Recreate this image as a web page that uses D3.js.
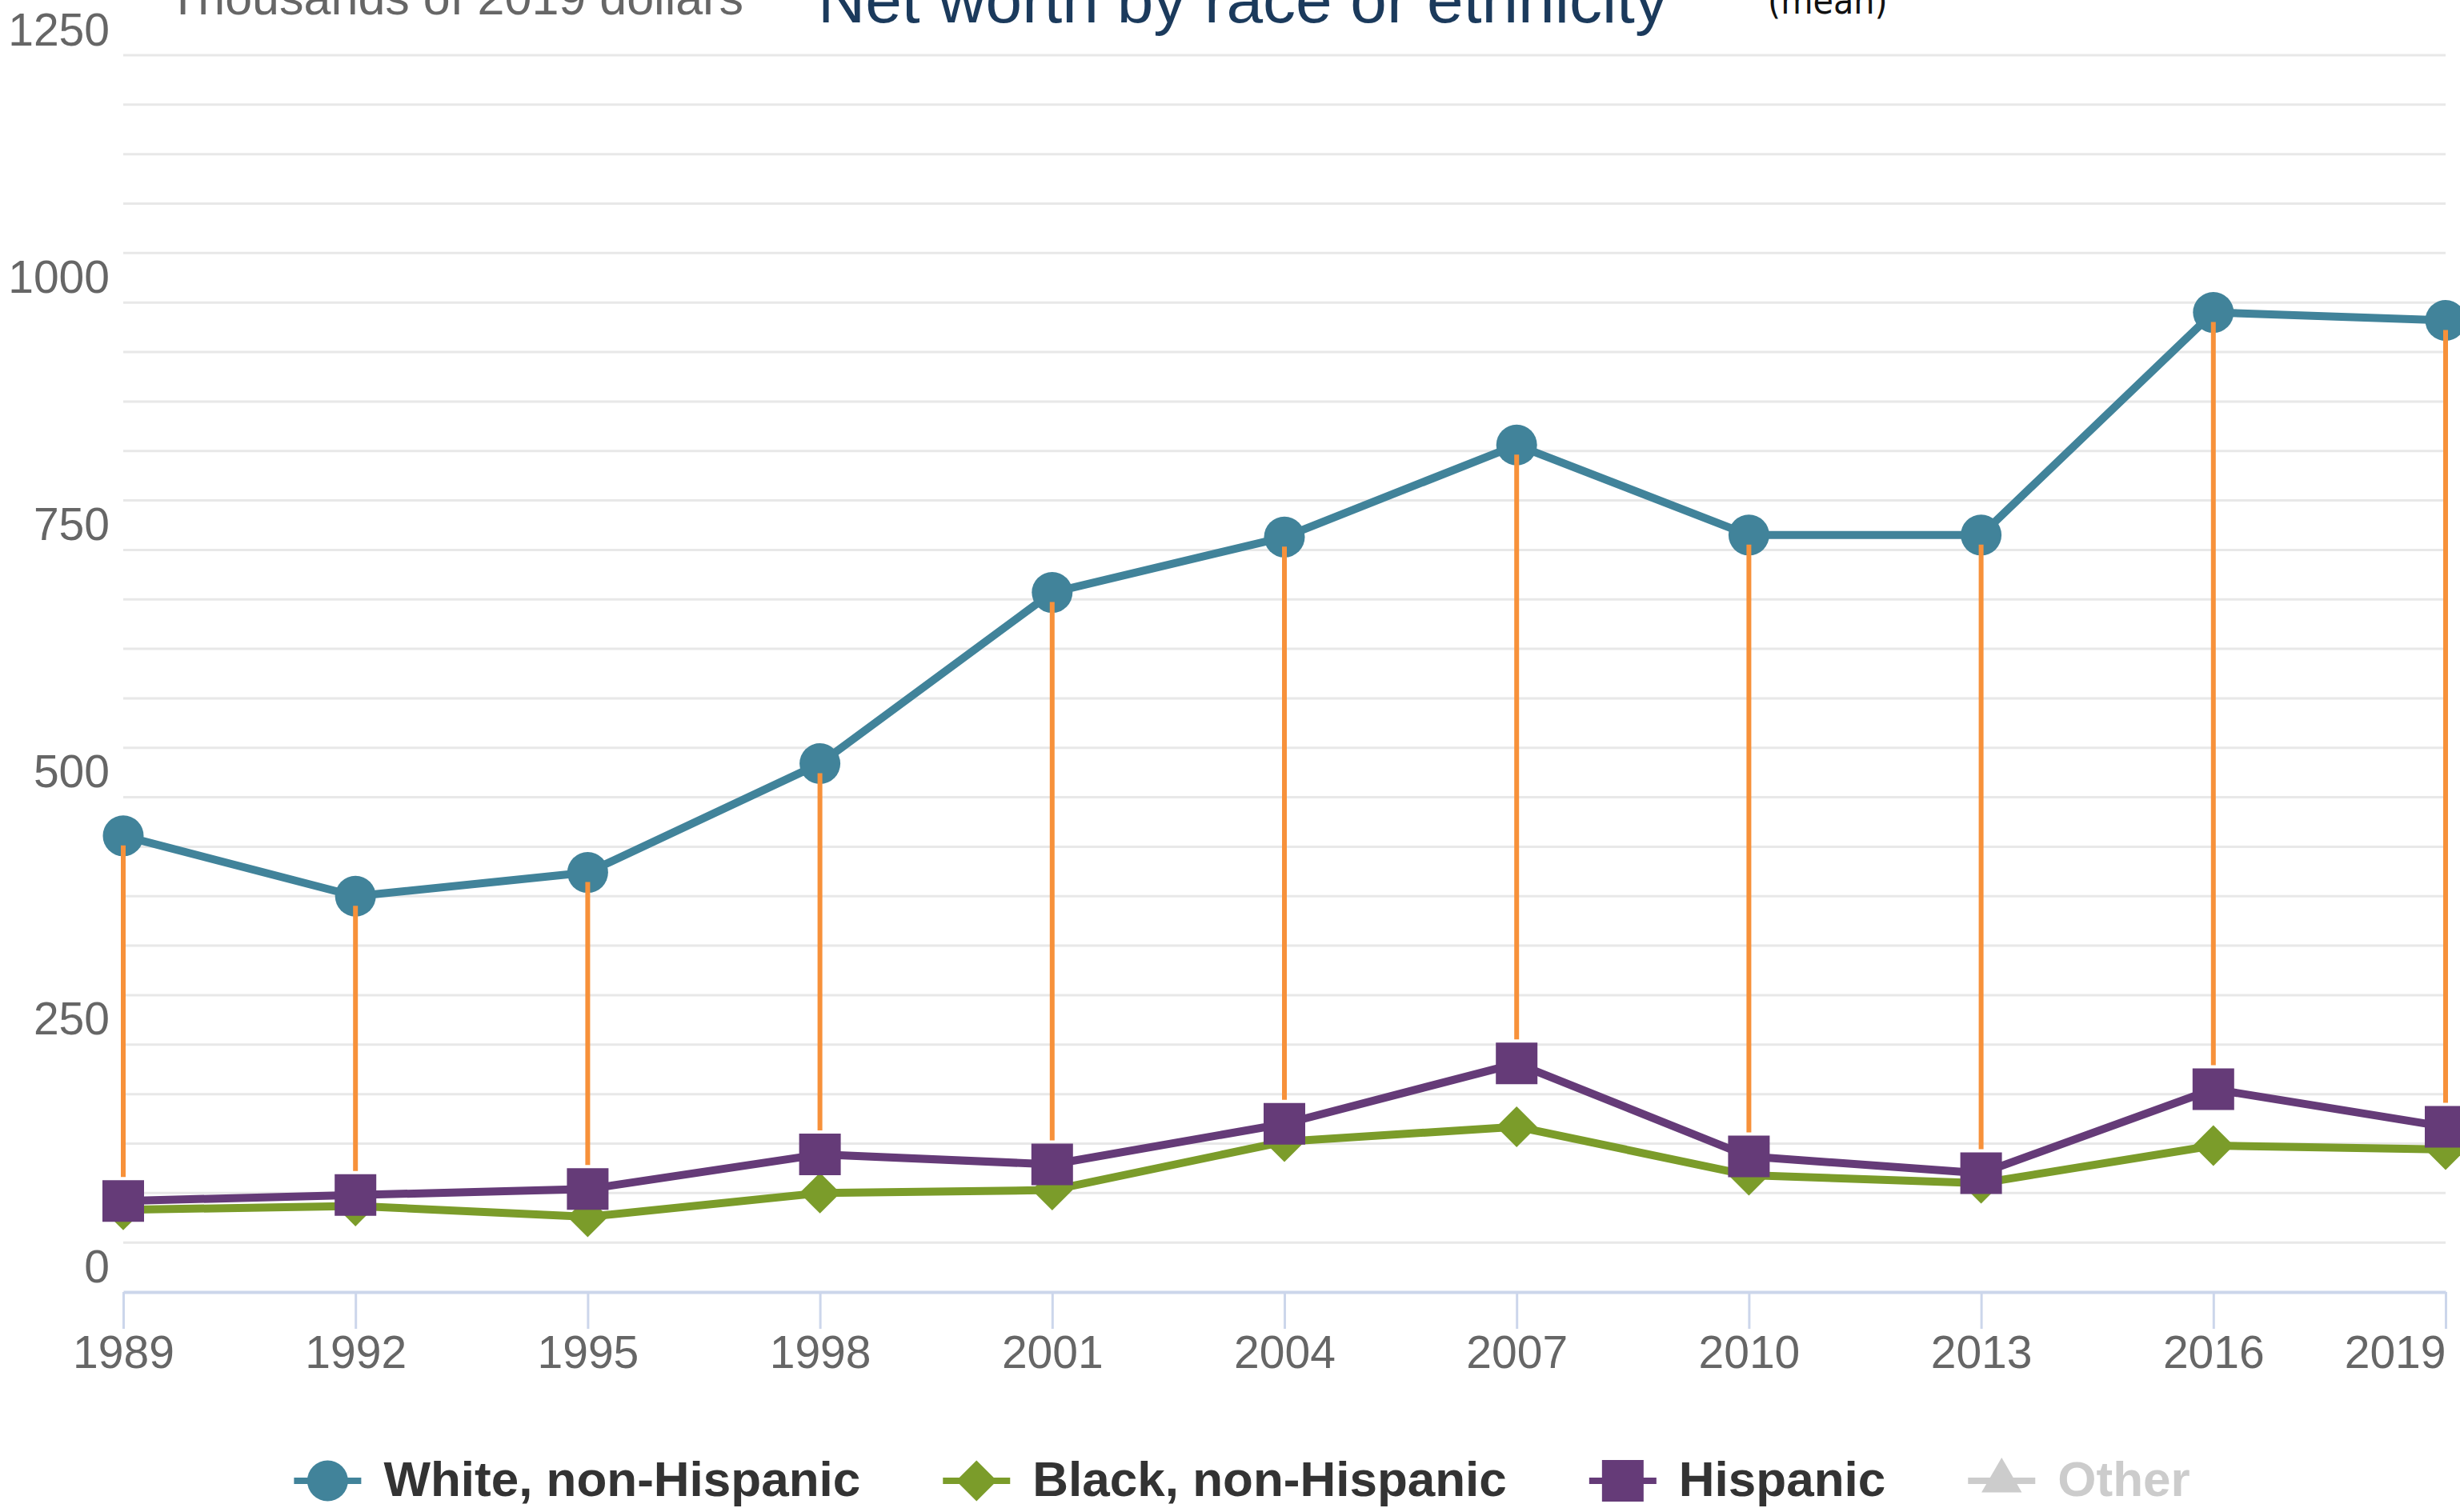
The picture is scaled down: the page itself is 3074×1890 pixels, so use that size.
<!DOCTYPE html>
<html>
<head>
<meta charset="utf-8">
<script src="https://cdn.jsdelivr.net/npm/d3@7"></script>
<style>
  html, body { margin: 0; padding: 0; background: #ffffff; overflow: hidden; }
  svg { display: block; font-family: "Liberation Sans", Arial, Helvetica, sans-serif; }
</style>
</head>
<body>
<svg id="chart" width="3074" height="1890"></svg>
<script>
// Survey years (x categories)
const years = ["1989", "1992", "1995", "1998", "2001", "2004", "2007", "2010", "2013", "2016", "2019"];

// Mean net worth, thousands of 2019 dollars
const whiteNonHispanic = [461, 400, 424, 534, 707, 763, 856, 765, 765, 990, 982];
const blackNonHispanic = [83, 87, 76, 100, 103, 152, 167, 118, 110, 148, 144];
const hispanic         = [92, 98, 104, 139, 129, 170, 231, 137, 120, 205, 167];

// Y axis labels and minor grid step
const yTickValues = [0, 250, 500, 750, 1000, 1250];
const gridStep = 50;

// Legend entries (the last one is a hidden series)
const legendNames = ["White, non-Hispanic", "Black, non-Hispanic", "Hispanic", "Other"];

const titleText = "Net worth by race or ethnicity";
const unitText = "Thousands of 2019 dollars";
const noteText = "(mean)";

// ---- styling ----
const colors = {
  white: "#41839a",
  black: "#7b9c2a",
  hispanic: "#653b78",
  other: "#cccccc",
  gap: "#f7913a",
  grid: "#e8e8e8",
  axis: "#ccd6eb",
  label: "#666666"
};

const svg = d3.select("#chart");
const plot = { left: 154, right: 3056, top: 69, bottom: 1615 };

const x = d3.scalePoint().domain(years).range([plot.left, plot.right]);
const y = d3.scaleLinear().domain([0, 1250]).range([plot.bottom, plot.top]);

// Horizontal grid lines every 50
const gridValues = d3.range(gridStep, 1250 + 1, gridStep);
svg.append("g")
  .selectAll("line")
  .data(gridValues)
  .join("line")
  .attr("x1", plot.left)
  .attr("x2", plot.right)
  .attr("y1", d => y(d))
  .attr("y2", d => y(d))
  .attr("stroke", colors.grid)
  .attr("stroke-width", 3);

// Y axis: labels sit just above their grid lines
const yAxis = d3.axisLeft(y)
  .tickValues(yTickValues)
  .tickFormat(d3.format("d"))
  .tickSize(0)
  .tickPadding(17);
const gy = svg.append("g").attr("transform", `translate(${plot.left},0)`).call(yAxis);
gy.select(".domain").remove();
gy.selectAll("text")
  .attr("dy", null)
  .attr("y", -13)
  .attr("fill", colors.label)
  .attr("font-size", 57)
  .attr("font-family", "'Liberation Sans', Arial, sans-serif");

// X axis
const xAxis = d3.axisBottom(x).tickSize(46).tickSizeOuter(0).tickPadding(0);
const gx = svg.append("g").attr("transform", `translate(0,${plot.bottom})`).call(xAxis);
gx.select(".domain").attr("stroke", colors.axis).attr("stroke-width", 4);
gx.selectAll(".tick line").attr("stroke", colors.axis).attr("stroke-width", 3);
gx.selectAll("text")
  .attr("dy", null)
  .attr("y", 95)
  .attr("fill", colors.label)
  .attr("font-size", 57)
  .attr("font-family", "'Liberation Sans', Arial, sans-serif")
  .attr("text-anchor", (d, i, n) => i === n.length - 1 ? "end" : "middle");

// Series
const diamond = d3.symbol().type(d3.symbolSquare).size(1300);
const square = d3.symbol().type(d3.symbolSquare).size(2704);

const series = [
  { name: legendNames[0], values: whiteNonHispanic, color: colors.white, marker: "circle" },
  { name: legendNames[1], values: blackNonHispanic, color: colors.black, marker: "diamond" },
  { name: legendNames[2], values: hispanic, color: colors.hispanic, marker: "square" }
];

const line = d3.line().x(d => x(d.year)).y(d => y(d.value));

function drawMarker(sel, kind, color) {
  if (kind === "circle") {
    sel.append("circle").attr("r", 25.5).attr("fill", color);
  } else if (kind === "square") {
    sel.append("path").attr("d", square()).attr("fill", color);
  } else if (kind === "diamond") {
    sel.append("path").attr("d", diamond()).attr("transform", "rotate(45)").attr("fill", color);
  } else if (kind === "triangle") {
    sel.append("path").attr("d", d3.symbol().type(d3.symbolTriangle).size(1100)()).attr("fill", color);
  }
}

series.forEach(s => {
  const pts = years.map((yr, i) => ({ year: yr, value: s.values[i] }));
  const g = svg.append("g");
  g.append("path")
    .datum(pts)
    .attr("d", line)
    .attr("fill", "none")
    .attr("stroke", s.color)
    .attr("stroke-width", 10)
    .attr("stroke-linejoin", "round");
  g.selectAll("g.pt")
    .data(pts)
    .join("g")
    .attr("class", "pt")
    .attr("transform", d => `translate(${x(d.year)},${y(d.value)})`)
    .each(function () { drawMarker(d3.select(this), s.marker, s.color); });
});

// Gap between White and Hispanic means, one stem per year
svg.append("g")
  .selectAll("line")
  .data(years.map((yr, i) => ({ year: yr, hi: whiteNonHispanic[i], lo: hispanic[i] })))
  .join("line")
  .attr("x1", d => x(d.year))
  .attr("x2", d => x(d.year))
  .attr("y1", d => y(d.hi) + 12)
  .attr("y2", d => y(d.lo) - 30)
  .attr("stroke", colors.gap)
  .attr("stroke-width", 6);

// Titles along the top edge
svg.append("text")
  .attr("x", 210).attr("y", 18)
  .attr("font-size", 61)
  .attr("fill", colors.label)
  .text(unitText);

svg.append("text")
  .attr("x", 1022).attr("y", 28)
  .attr("font-size", 82)
  .attr("fill", "#1b3a5c")
  .text(titleText);

svg.append("text")
  .attr("x", 2209).attr("y", 17)
  .attr("font-size", 46)
  .attr("font-family", "'Liberation Sans Narrow', 'DejaVu Sans Condensed', sans-serif")
  .attr("fill", "#111111")
  .text(noteText);

// Legend
const legendItems = [
  { name: legendNames[0], color: colors.white, marker: "circle", text: "#333333" },
  { name: legendNames[1], color: colors.black, marker: "diamond", text: "#333333" },
  { name: legendNames[2], color: colors.hispanic, marker: "square", text: "#333333" },
  { name: legendNames[3], color: colors.other, marker: "triangle", text: "#cccccc" }
];
const legend = svg.append("g");
const symbolLen = 84, textOffset = 112, itemGap = 103, legendY = 1851, legendBase = 1870;
let cursor = 0;
legendItems.forEach(item => {
  const g = legend.append("g").attr("transform", `translate(${cursor},0)`);
  g.append("line")
    .attr("x1", 0).attr("x2", symbolLen)
    .attr("y1", legendY).attr("y2", legendY)
    .attr("stroke", item.color).attr("stroke-width", 8);
  const m = g.append("g").attr("transform", `translate(${symbolLen / 2},${legendY})`);
  drawMarker(m, item.marker, item.color);
  const t = g.append("text")
    .attr("x", textOffset).attr("y", legendBase)
    .attr("font-size", 62)
    .attr("font-weight", "bold")
    .attr("fill", item.text)
    .text(item.name);
  cursor += textOffset + t.node().getComputedTextLength() + itemGap;
});
const legendWidth = cursor - itemGap;
legend.attr("transform", `translate(${1552 - legendWidth / 2},0)`);
</script>
</body>
</html>
